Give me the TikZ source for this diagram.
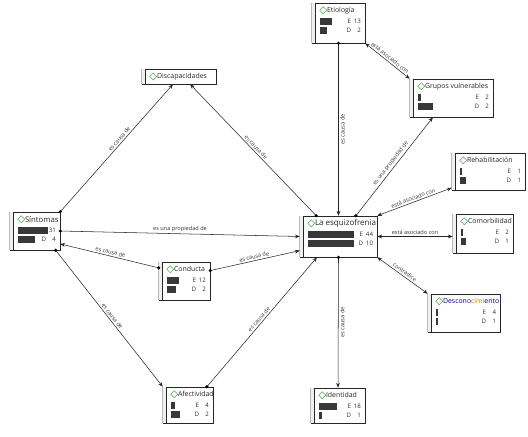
\documentclass[tikz,border=0pt]{standalone}
\usepackage{fontspec}
\setsansfont{Open Sans}
\usetikzlibrary{arrows.meta, calc}

% inside of a code box: side strip, icon, title, bars and counts
\newcommand{\codebody}[6]{%
  \fill[gray!12] (#1.north west) rectangle ($(#1.south west)+(4,0)$);
  \draw[gray!55] (#1.north west) -- (#1.south west);
  \draw[black!85] ($(#1.north west)+(4,0)$) -- ($(#1.south west)+(4,0)$);
  \draw[icon] ($(#1.north west)+(8,7.5)$) -- ++(3.5,-3.5) -- ++(3.5,3.5) -- ++(-3.5,3.5) -- cycle;
  \node[title, anchor=west] at ($(#1.north west)+(15,7.5)$) {#2};
  \fill[bar] ($(#1.north west)+(8,15)$) rectangle ++(#5,7);
  \fill[bar] ($(#1.north west)+(8,24)$) rectangle ++(#6,7);
  \node[count, anchor=east] at ($(#1.north east)+(-14,18.5)$) {E};
  \node[count, anchor=east] at ($(#1.north east)+(-14,27.5)$) {D};
  \node[count, anchor=east] at ($(#1.north east)+(-4,18.5)$) {#3};
  \node[count, anchor=east] at ($(#1.north east)+(-4,27.5)$) {#4};
}

\begin{document}
\begin{tikzpicture}[
  x=0.75pt, y=-0.75pt,
  font=\sffamily,
  codebox/.style 2 args={rectangle, draw=black!85, fill=white, inner sep=0pt,
                         minimum width=#1*0.75pt, minimum height=#2*0.75pt},
  icon/.style={draw=green!55!black!70, line width=0.5pt, fill=white},
  title/.style={font=\sffamily\fontsize{5.2}{6}\selectfont, text=black!85, inner sep=0pt},
  count/.style={font=\sffamily\fontsize{4.6}{5}\selectfont, text=black!80, inner sep=0pt},
  bar/.style={black!78},
  lab/.style={font=\sffamily\fontsize{4.2}{5}\selectfont, text=black!80, inner sep=1.2pt},
  rel/.style={-{Stealth[length=3.6pt,width=2.8pt]}, black!85, line width=0.4pt},
  sym/.style={{Stealth[length=3.6pt,width=2.8pt]}-{Stealth[length=3.6pt,width=2.8pt]}, black!85, line width=0.4pt},
  src/.style={circle, fill=black, inner sep=0pt, minimum size=2.6pt},
]
\useasboundingbox[fill=white] (0,0) rectangle (528,436);

% code boxes
\node[codebox={53}{40}] (etio) at (338.5,23) {};
\node[codebox={74}{15}] (disc) at (179,76.5) {};
\node[codebox={83}{38}] (grupos) at (451.5,98) {};
\node[codebox={73}{37}] (rehab) at (488.5,171.5) {};
\node[codebox={77}{41}] (esq) at (338.5,236.5) {};
\node[codebox={60}{39}] (comor) at (483,233.5) {};
\node[codebox={50}{38}] (sint) at (35,231) {};
\node[codebox={51}{38}] (cond) at (184.5,281) {};
\node[codebox={72}{38}] (desc) at (464,313) {};
\node[codebox={50}{36}] (afec) at (188,405) {};
\node[codebox={54}{35}] (iden) at (338,405.5) {};

\codebody{etio}{Etiología}{13}{2}{12}{7}
\codebody{grupos}{Grupos vulnerables}{2}{2}{3}{15}
\codebody{rehab}{Rehabilitación}{1}{1}{2}{6}
\codebody{esq}{\fontsize{6}{7}\selectfont La esquizofrenia}{44}{10}{46}{46}
\codebody{comor}{Comorbilidad}{2}{1}{2}{5}
\codebody{sint}{\fontsize{5.8}{7}\selectfont Síntomas}{31}{4}{30}{17}
\codebody{cond}{Conducta}{12}{2}{12}{9}
\codebody{desc}{\textcolor{blue!65!black}{Descono}\textcolor{orange!90!black}{cimi}\textcolor{blue!65!black}{ento}}{4}{1}{2}{2}
\codebody{afec}{Afectividad}{4}{2}{4}{9}
\codebody{iden}{Identidad}{18}{1}{18}{3}
% Discapacidades has no counts
\fill[gray!12] (disc.north west) rectangle ($(disc.south west)+(4,0)$);
\draw[gray!55] (disc.north west) -- (disc.south west);
\draw[black!85] ($(disc.north west)+(4,0)$) -- ($(disc.south west)+(4,0)$);
\draw[icon] ($(disc.west)+(8,0)$) -- ++(3.5,-3.5) -- ++(3.5,3.5) -- ++(-3.5,3.5) -- cycle;
\node[title, anchor=west] at ($(disc.west)+(15,0)$) {Discapacidades};

% relations
\draw[rel] (etio.south) -- node[lab, rotate=90, below]{es causa de} (esq.north);
\draw[sym] (etio.south east) -- node[lab, sloped, above]{está asociado con} (grupos.north west);
\draw[rel] (esq.50) -- node[lab, sloped, above]{es una propiedad de} (grupos.226);
\draw[sym] (esq.north east) -- node[lab, sloped, above]{está asociado con} (rehab.204);
\draw[sym] (esq.east) -- node[lab, above]{está asociado con} (esq.east -| comor.west);
\draw[sym] (esq.south east) -- node[lab, sloped, above]{contradice} (desc.north west);
\draw[rel] (esq.south) -- node[lab, rotate=90, below]{es causa de} (iden.north);
\draw[rel] (sint.east) -- node[lab, above]{es una propiedad de} (esq.west);
\draw[rel] (cond.153) -- node[lab, sloped, above]{es causa de} (sint.-27);
\draw[rel] (cond.22) -- node[lab, sloped, above]{es causa de} (esq.200);
\draw[rel] (sint.north east) -- node[lab, sloped, above, pos=0.55]{es causa de} (disc.232);
\draw[rel] (esq.137) -- node[lab, sloped, above]{es causa de} (disc.-35);
\draw[rel] (sint.-43) -- node[lab, sloped, above]{es causa de} (afec.north west);
\draw[rel] (afec.44) -- node[lab, sloped, above]{es causa de} (esq.224);

% source dots
\foreach \p in {etio.south, esq.50, esq.south, sint.east, cond.153, cond.22,
                sint.north east, esq.137, sint.-43, afec.44}
  \node[src] at (\p) {};
\end{tikzpicture}
\end{document}
